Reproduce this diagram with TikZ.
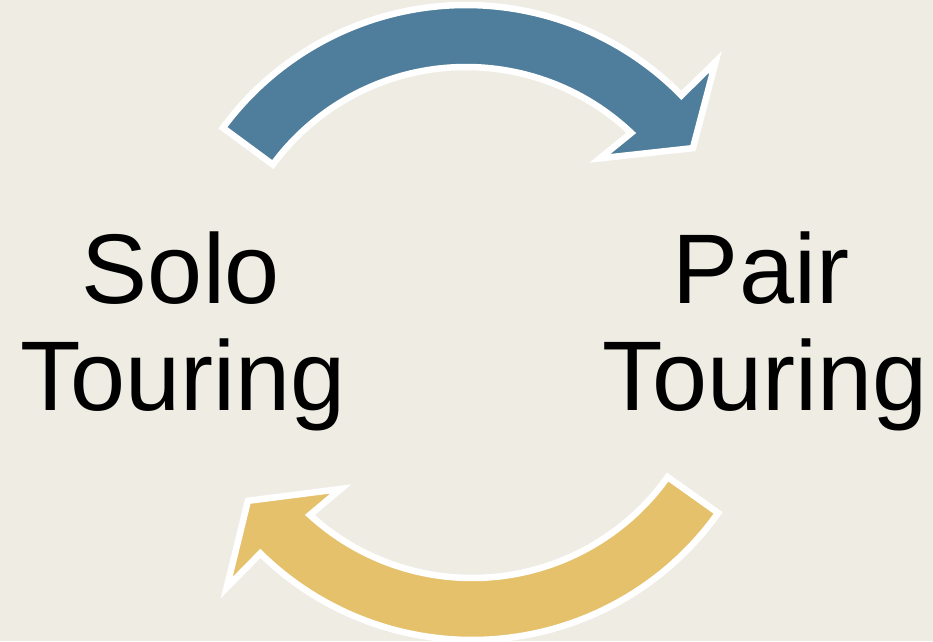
\documentclass[tikz,border=0pt]{standalone}
\usepackage{fontspec}
\setmainfont{Liberation Sans}
\definecolor{bgc}{HTML}{EFECE4}
\definecolor{bluec}{HTML}{4E7E9B}
\definecolor{goldc}{HTML}{E5C16B}
\tikzset{
  arrowshape/.style={draw=white, line width=6.5pt, miter limit=10, line join=miter},
  lbl/.style={anchor=base, inner sep=0pt, font=\fontsize{99}{107}\selectfont}
}
\newcommand{\circarrow}{%
  (143.6:302) arc[start angle=143.6, end angle=44.5, radius=302]
  -- (44.5:350) -- (35:277) -- (48:200) -- (46.5:240)
  arc[start angle=46.5, end angle=143.6, radius=240] -- cycle}
\begin{document}
\begin{tikzpicture}[x=1pt,y=1pt]
\fill[bgc] (0,0) rectangle (933,641);
\useasboundingbox (0,0) rectangle (933,641);
\fill[bluec, arrowshape, shift={(466,334)}] \circarrow;
\fill[goldc, arrowshape, shift={(472,303)}, rotate=181] \circarrow;
\node[lbl] (solo) at (181,338) {Solo};
\node[lbl] (solot) at (183,231) {Touring};
\node[lbl] (pair) at (761,338) {Pair};
\node[lbl] (pairt) at (765,231) {Touring};
\end{tikzpicture}
\end{document}
